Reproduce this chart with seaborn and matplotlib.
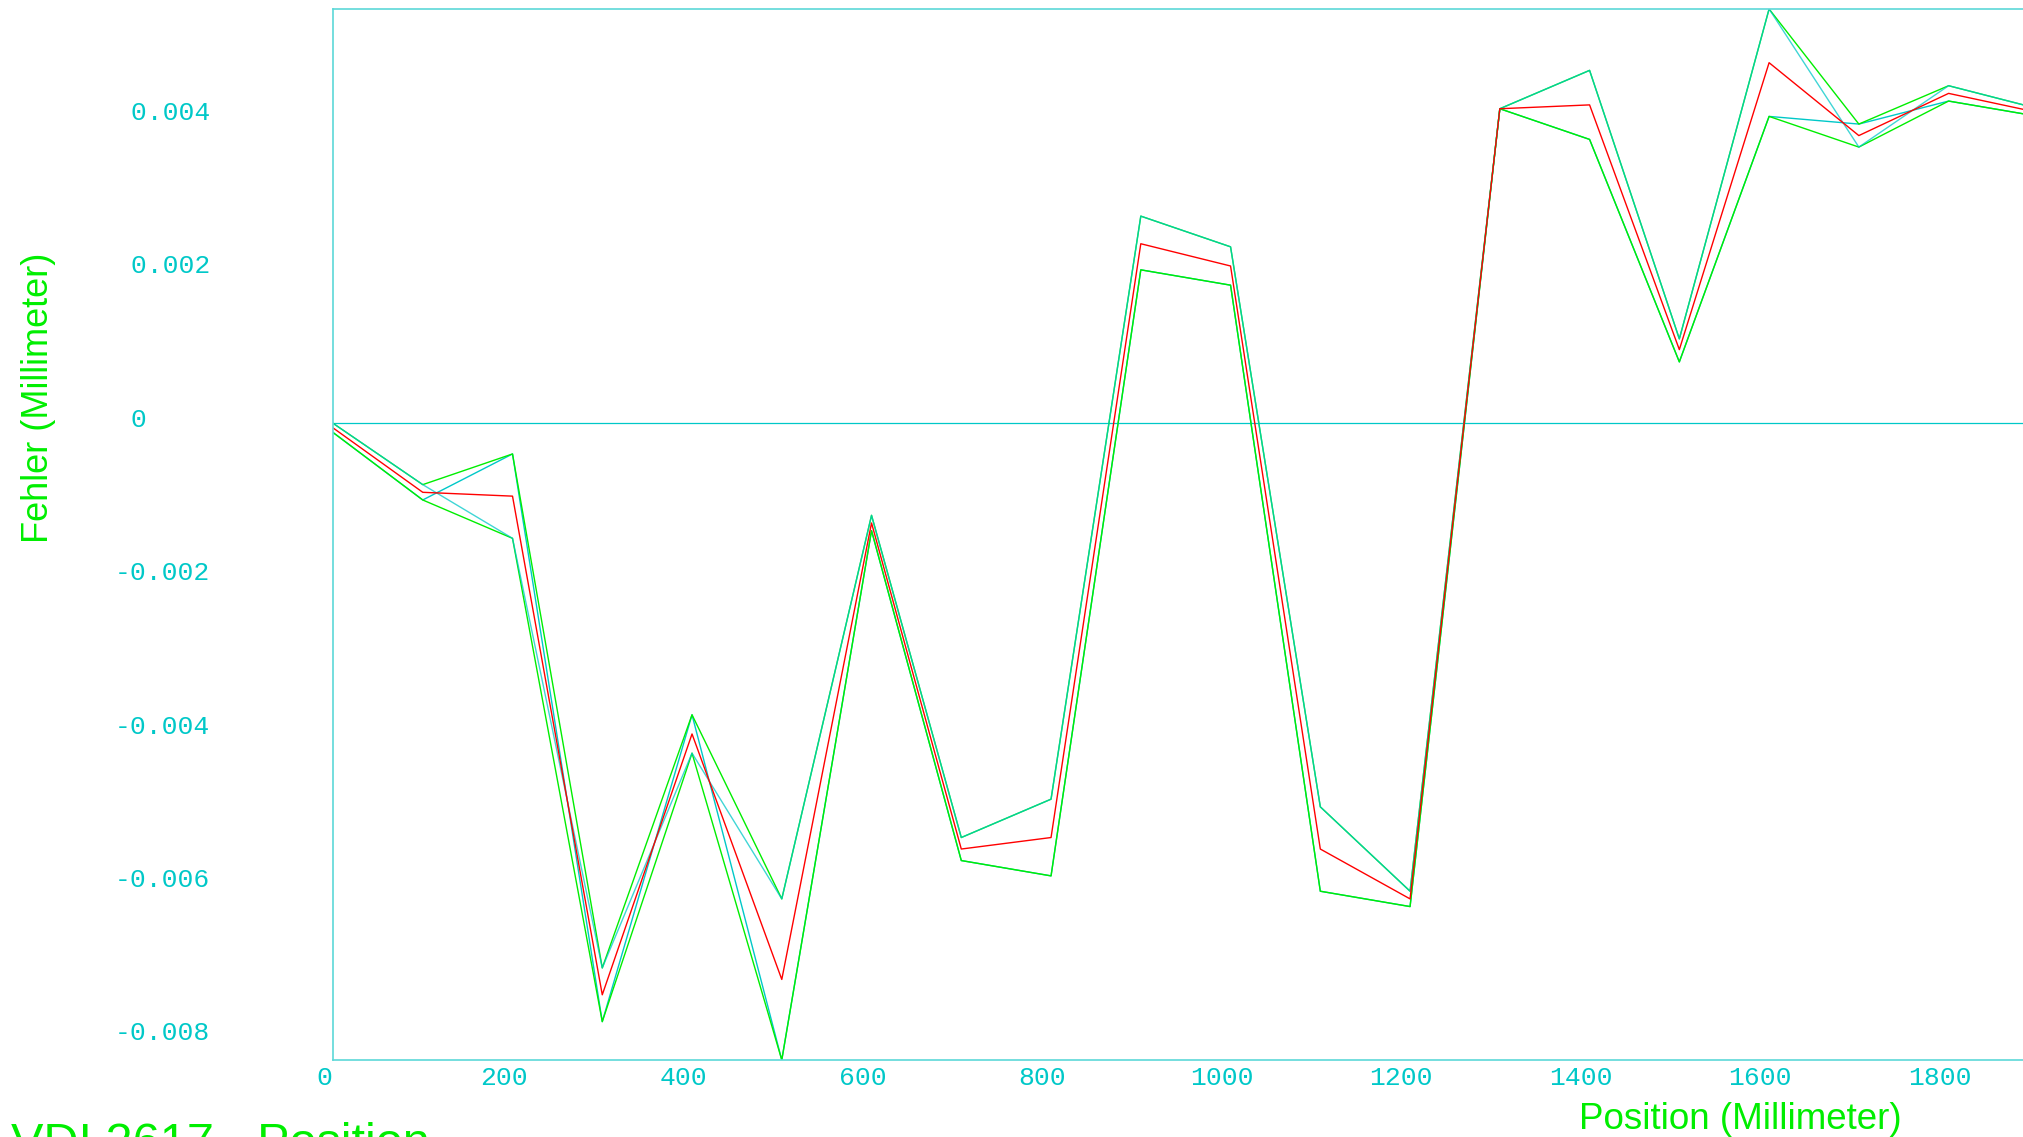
import numpy as np
import pandas as pd
import matplotlib
matplotlib.use("Agg")
import matplotlib.pyplot as plt
import matplotlib.transforms as mtransforms
import seaborn as sns

# measuring positions (mm)
position = [0, 100, 200, 300, 400, 500, 600, 700, 800, 900,
            1000, 1100, 1200, 1300, 1400, 1500, 1600, 1700, 1800, 1900]

# two single runs (cyan)
run_1 = [0.0, -0.0008, -0.0015, -0.0071, -0.0043, -0.0062, -0.0012, -0.0054, -0.0049, 0.0027,
         0.0023, -0.0050, -0.0061, 0.0041, 0.0046, 0.0011, 0.0054, 0.0036, 0.0044, 0.0041]
run_2 = [-0.00012, -0.0010, -0.0004, -0.0078, -0.0038, -0.0083, -0.0014, -0.0057, -0.0059, 0.0020,
         0.0018, -0.0061, -0.0063, 0.0041, 0.0037, 0.0008, 0.0040, 0.0039, 0.0042, 0.0040]

# upper / lower envelope (green)
upper = [0.0, -0.0008, -0.0004, -0.0071, -0.0038, -0.0062, -0.0012, -0.0054, -0.0049, 0.0027,
         0.0023, -0.0050, -0.0061, 0.0041, 0.0046, 0.0011, 0.0054, 0.0039, 0.0044, 0.0041]
lower = [-0.00012, -0.0010, -0.0015, -0.0078, -0.0043, -0.0083, -0.0014, -0.0057, -0.0059, 0.0020,
         0.0018, -0.0061, -0.0063, 0.0041, 0.0037, 0.0008, 0.0040, 0.0036, 0.0042, 0.0040]

# mean value (red)
mean = [-0.00006, -0.0009, -0.00095, -0.00745, -0.00405, -0.00725, -0.0013, -0.00555, -0.0054, 0.00234,
        0.00205, -0.00555, -0.0062, 0.0041, 0.00415, 0.00096, 0.0047, 0.00375, 0.0043, 0.00405]

ytick_values = [-0.008, -0.006, -0.004, -0.002, 0, 0.002, 0.004]
ytick_labels = ["-0.008", "-0.006", "-0.004", "-0.002", "0", "0.002", "0.004"]
xtick_values = [0, 200, 400, 600, 800, 1000, 1200, 1400, 1600, 1800]
xtick_labels = ["0", "200", "400", "600", "800", "1000", "1200", "1400", "1600", "1800"]

CYAN = "#00c8c8"
GREEN = "#00ee00"
RED = "#ff0000"
SPINE = "#5cd8d8"

series = {"run_2": run_2, "lower": lower, "upper": upper, "run_1": run_1, "mean": mean}
df = pd.concat([pd.DataFrame({"position": position, "error": v, "series": k})
                for k, v in series.items()], ignore_index=True)
palette = {"run_1": CYAN, "run_2": CYAN, "upper": GREEN, "lower": GREEN, "mean": RED}

sns.set_style("white")
plt.rcParams["font.family"] = ["Liberation Sans", "DejaVu Sans"]

W, H = 2024, 1137
fig = plt.figure(figsize=(W / 100, H / 100), dpi=100)
ax = fig.add_axes([333 / W, 1 - 1060 / H, 1 - 333 / W, (1060 - 9) / H])

ax.axhline(0, color=CYAN, lw=0.9, zorder=1)

# draw order: cyan run, green envelope, second cyan run (a bit see-through), red mean
sns.lineplot(data=df[df.series.isin(["run_2", "lower", "upper"])], x="position", y="error",
             hue="series", hue_order=["run_2", "lower", "upper"],
             palette=palette, units="series", estimator=None, sort=False,
             legend=False, linewidth=1.0, ax=ax)
sns.lineplot(data=df[df.series == "run_1"], x="position", y="error", color=CYAN,
             alpha=0.75, estimator=None, sort=False, legend=False, linewidth=1.0, ax=ax)
sns.lineplot(data=df[df.series == "mean"], x="position", y="error", color=RED,
             estimator=None, sort=False, legend=False, linewidth=1.0, ax=ax)

ax.set_xlim(0, 1884)
ax.set_ylim(-0.0083, 0.0054)

for side in ["left", "bottom", "top"]:
    ax.spines[side].set_color(SPINE)
    ax.spines[side].set_linewidth(1.2)
ax.spines["right"].set_visible(False)

ax.set_xticks(xtick_values)
ax.set_xticklabels(xtick_labels)
ax.set_yticks(ytick_values)
# first digit of every label lines up, minus sign hangs out in front
ax.set_yticklabels([s if s.startswith("-") else " " + s for s in ytick_labels])

tick_font = ["Liberation Mono", "DejaVu Sans Mono"]
ax.tick_params(axis="both", direction="in", length=4, width=0.8, color=RED,
               labelcolor=CYAN, labelsize=19)
ax.tick_params(axis="y", pad=157)
ax.tick_params(axis="x", pad=4)
for lbl in ax.get_yticklabels():
    lbl.set_family(tick_font)
    lbl.set_ha("left")
    lbl.set_transform(lbl.get_transform() +
                      mtransforms.ScaledTranslation(0, 6 / 100, fig.dpi_scale_trans))
for lbl in ax.get_xticklabels():
    lbl.set_family(tick_font)
    lbl.set_transform(lbl.get_transform() +
                      mtransforms.ScaledTranslation(-9 / 100, 0, fig.dpi_scale_trans))

ax.set_xlabel("")
ax.set_ylabel("")

fig.text(39 / W, 1 - 398 / H, "Fehler (Millimeter)", rotation=90, color=GREEN,
         fontsize=26, ha="center", va="center")
fig.text(1740 / W, 1 - 1129 / H, "Position (Millimeter)", color=GREEN,
         fontsize=26.5, ha="center", va="baseline")
fig.text(11 / W, 1 - 1157 / H, "VDI 2617 - Position", color=GREEN,
         fontsize=35, ha="left", va="baseline")

fig.savefig("out.png", dpi=100)
